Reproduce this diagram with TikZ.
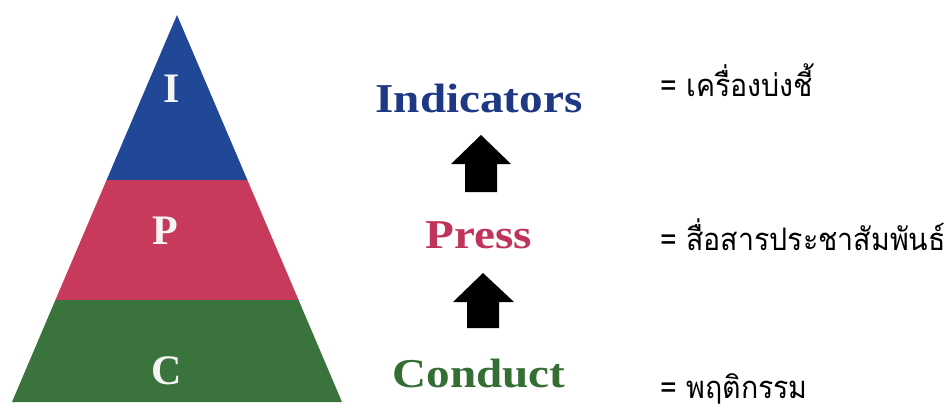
\documentclass[tikz,border=0pt]{standalone}
\usepackage{fontspec}
\usepackage{graphicx}
\setmainfont{Liberation Serif}
\newfontfamily\thaifont[Script=Thai]{Loma}
\definecolor{pblue}{RGB}{32,72,150}
\definecolor{pred}{RGB}{200,58,92}
\definecolor{pgreen}{RGB}{58,116,60}
\definecolor{tblue}{RGB}{30,56,132}
\definecolor{tred}{RGB}{192,52,92}
\definecolor{tgreen}{RGB}{52,110,52}
\newcommand\mywide[1]{\scalebox{1.15}[1]{#1}}
\newcommand\mythin[1]{\scalebox{0.92}[1]{#1}}
\tikzset{
  band/.style={draw=none},
  letter/.style={anchor=base,inner sep=0pt,text=white!92!gray,font=\fontsize{42}{42}\selectfont\bfseries},
  word/.style={anchor=base,inner sep=0pt,font=\fontsize{41}{41}\selectfont\bfseries},
  thai/.style={anchor=base west,inner sep=0pt,font=\thaifont\fontsize{31}{31}\selectfont},
  blockarrow/.style={fill=black,draw=none}
}
\begin{document}
\begin{tikzpicture}[x=1pt,y=-1pt]
\useasboundingbox (0,0) rectangle (945,410);
% pyramid bands
\fill[pblue,band] (177,15) -- (247.4,180) -- (106.6,180) -- cycle;
\fill[pred,band] (106.6,180) -- (247.4,180) -- (298.6,300) -- (55.4,300) -- cycle;
\fill[pgreen,band] (55.4,300) -- (298.6,300) -- (342,402) -- (12,402) -- cycle;
\node[letter] (lI) at (172,102) {I};
\node[letter] (lP) at (165,244) {P};
\node[letter] (lC) at (167,384) {C};
% middle words
\node[word,text=tblue] (ind) at (479,112) {\mywide{Indicators}};
\node[word,text=tred] (press) at (479,248) {\mywide{Press}};
\node[word,text=tgreen] (cond) at (479,387) {\mywide{Conduct}};
% block arrows
\fill[blockarrow] (481,135) -- (511,164) -- (497,164) -- (497,192) -- (465,192) -- (465,164) -- (451,164) -- cycle;
\fill[blockarrow] (483,273) -- (514,302) -- (499,302) -- (499,328) -- (467,328) -- (467,302) -- (453,302) -- cycle;
% thai texts
\node[thai] (t1) at (660,96) {\mythin{= เครื่องบ่งชี้}};
\node[thai] (t2) at (660,250) {\mythin{= สื่อสารประชาสัมพันธ์}};
\node[thai] (t3) at (660,398) {\mythin{= พฤติกรรม}};
\end{tikzpicture}
\end{document}
